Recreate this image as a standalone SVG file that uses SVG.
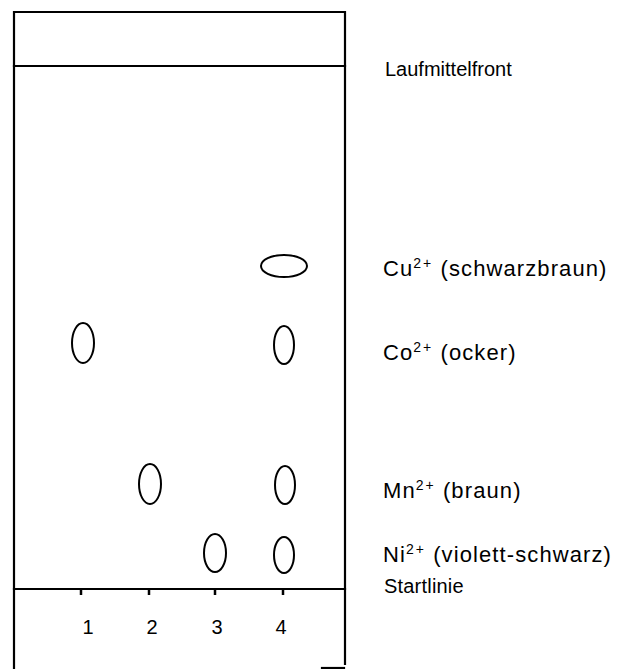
<svg xmlns="http://www.w3.org/2000/svg" width="625" height="669" viewBox="0 0 625 669">
  <style>
    .frame { fill: none; stroke: #000; stroke-width: 2.2; stroke-linecap: square; }
    .spot { fill: none; stroke: #000; stroke-width: 2; }
    .tick { stroke: #000; stroke-width: 2.5; }
    text { font-family: "Liberation Sans", Arial, sans-serif; font-size: 20px; fill: #000; }
    .ion { font-size: 22px; letter-spacing: 1.1px; }
    .sup { font-size: 14px; letter-spacing: 2px; }
    .num { text-anchor: middle; }
  </style>
  <rect width="625" height="669" fill="#fff"/>

  <!-- TLC plate outline -->
  <g id="plate">
    <path class="frame" d="M14,669 V12 H345 V664"/>
    <line class="frame" x1="322" y1="668" x2="344" y2="668"/>
  </g>

  <!-- solvent front and start line -->
  <g id="front-line">
    <line class="frame" x1="14" y1="66" x2="345" y2="66"/>
  </g>
  <g id="start-line">
    <line class="frame" x1="14" y1="589" x2="345" y2="589"/>
    <line class="tick" x1="81" y1="589" x2="81" y2="595"/>
    <line class="tick" x1="149" y1="589" x2="149" y2="595"/>
    <line class="tick" x1="215" y1="589" x2="215" y2="595"/>
    <line class="tick" x1="283" y1="589" x2="283" y2="595"/>
  </g>

  <!-- lane numbers -->
  <g id="lanes">
    <text class="num" x="88" y="634">1</text>
    <text class="num" x="152" y="634">2</text>
    <text class="num" x="217" y="634">3</text>
    <text class="num" x="281" y="634">4</text>
  </g>

  <!-- spots -->
  <g id="spot-cu">
    <ellipse class="spot" cx="284" cy="266" rx="23" ry="11"/>
  </g>
  <g id="spot-co">
    <ellipse class="spot" cx="83" cy="343" rx="11" ry="20"/>
    <ellipse class="spot" cx="284" cy="345" rx="10" ry="19"/>
  </g>
  <g id="spot-mn">
    <ellipse class="spot" cx="150" cy="484" rx="11" ry="20"/>
    <ellipse class="spot" cx="285" cy="485" rx="10" ry="19"/>
  </g>
  <g id="spot-ni">
    <ellipse class="spot" cx="215" cy="553" rx="11" ry="19"/>
    <ellipse class="spot" cx="284" cy="555" rx="10" ry="18"/>
  </g>

  <!-- labels -->
  <g id="labels">
    <text x="385" y="76">Laufmittelfront</text>
    <text class="ion" x="383" y="276">Cu<tspan class="sup" dy="-8">2+</tspan><tspan dy="8"> (schwarzbraun)</tspan></text>
    <text class="ion" x="383" y="360">Co<tspan class="sup" dy="-8">2+</tspan><tspan dy="8"> (ocker)</tspan></text>
    <text class="ion" x="383" y="498">Mn<tspan class="sup" dy="-8">2+</tspan><tspan dy="8"> (braun)</tspan></text>
    <text class="ion" x="383" y="562">Ni<tspan class="sup" dy="-8">2+</tspan><tspan dy="8"> (violett-schwarz)</tspan></text>
    <text x="384" y="593" style="letter-spacing:0.2px">Startlinie</text>
  </g>
</svg>
